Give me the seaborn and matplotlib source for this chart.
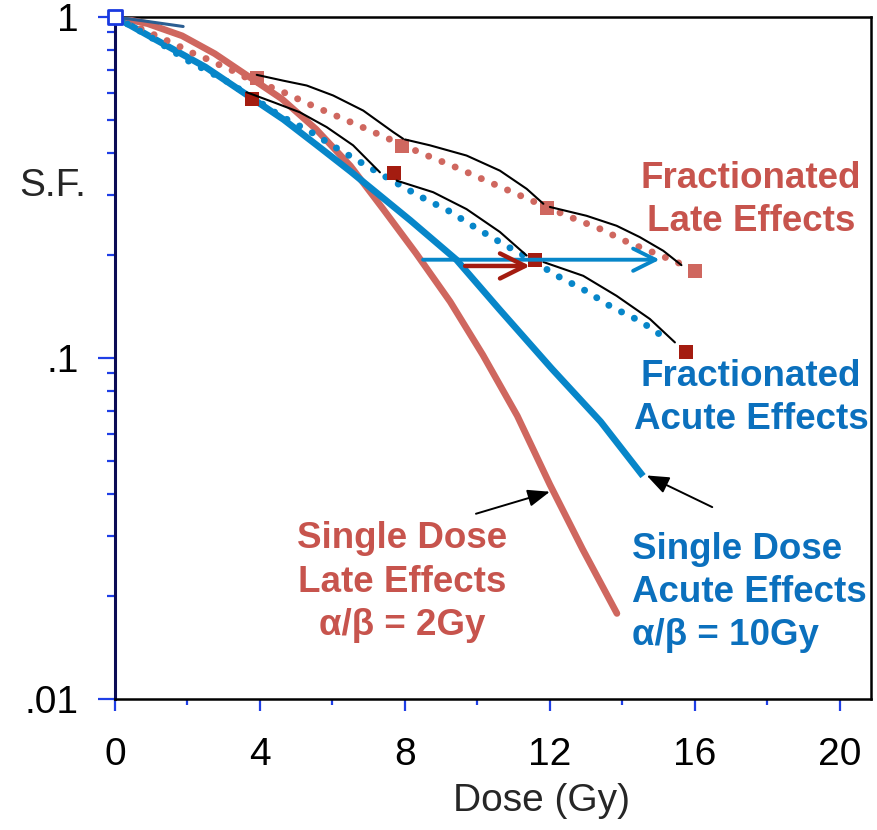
import numpy as np
import matplotlib
matplotlib.use("Agg")
import matplotlib.pyplot as plt
from matplotlib.ticker import LogLocator, NullFormatter
import seaborn as sns

# single dose curves (Gy, surviving fraction)
single_acute_dose = [0, 1.1, 2.5, 3.8, 4.65, 5.55, 6.5, 7.4, 8.15, 9.42, 10.6, 12.05, 13.4, 14.57]
single_acute_sf = [1.0, 0.86, 0.712, 0.575, 0.50, 0.422, 0.352, 0.294, 0.253, 0.194, 0.139, 0.093,
                   0.065, 0.045]

single_late_dose = [0, 0.9, 1.85, 2.75, 3.7, 4.6, 5.55, 6.5, 7.4, 8.3, 9.25, 10.15, 11.1, 12.0,
                    12.9, 13.85]
single_late_sf = [1.0, 0.955, 0.88, 0.78, 0.667, 0.575, 0.468, 0.365, 0.273, 0.203, 0.146, 0.102,
                  0.0676, 0.0425, 0.0275, 0.0178]

# fractionated (dotted) curves
frac_acute_dose = [0, 1.0, 2.0, 3.0, 3.8, 4.55, 5.4, 6.15, 6.9, 7.67, 8.4, 9.2, 10.0, 10.7,
                   11.45, 12.2, 13.0, 13.7, 14.5, 15.2]
frac_acute_sf = [1.0, 0.87, 0.745, 0.655, 0.58, 0.513, 0.46, 0.41, 0.368, 0.33, 0.298, 0.27, 0.239,
                 0.216, 0.195, 0.174, 0.157, 0.141, 0.128, 0.114]

frac_late_dose = [0, 0.92, 1.33, 1.73, 2.13, 2.53, 2.92, 3.33, 3.68, 4.55, 5.33, 6.13, 6.92, 7.72,
                  8.51, 9.33, 10.12, 10.94, 11.9, 12.55, 13.38, 14.16, 14.94, 15.7]
frac_late_sf = [1.0, 0.902, 0.862, 0.824, 0.784, 0.753, 0.72, 0.689, 0.658, 0.608, 0.556, 0.511,
                0.47, 0.431, 0.396, 0.365, 0.335, 0.307, 0.277, 0.259, 0.239, 0.218, 0.202, 0.187]

# fraction end points
acute_sq_dose = [3.78, 7.7, 11.6, 15.75]
acute_sq_sf = [0.575, 0.349, 0.193, 0.104]
late_sq_dose = [3.92, 7.91, 11.91, 16.0]
late_sq_sf = [0.662, 0.419, 0.275, 0.18]

# per-fraction shoulders (thin black)
acute_seg_dose = [[3.63, 4.37, 5.10, 5.84, 6.57, 7.31],
                  [7.77, 8.78, 9.7, 10.62, 11.36],
                  [11.82, 12.92, 13.84, 14.76, 15.45]]
acute_seg_sf = [[0.601, 0.562, 0.525, 0.475, 0.42, 0.35],
                [0.331, 0.306, 0.273, 0.234, 0.1995],
                [0.191, 0.174, 0.152, 0.13, 0.111]]
late_seg_dose = [[3.91, 4.64, 5.29, 6.02, 6.85, 7.68, 7.95],
                 [8.0, 8.69, 9.70, 10.62, 11.36, 11.82],
                 [12.0, 13.01, 13.84, 14.48, 15.13, 15.63]]
late_seg_sf = [[0.676, 0.65, 0.629, 0.588, 0.531, 0.459, 0.439],
               [0.437, 0.42, 0.392, 0.354, 0.313, 0.283],
               [0.277, 0.261, 0.244, 0.226, 0.206, 0.187]]

# initial slope line
alpha_dose = [0, 1.88]
alpha_sf = [1.0, 0.937]

x_major = [0, 4, 8, 12, 16, 20]
x_minor = [2, 6, 10, 14, 18]
y_major = [0.01, 0.1, 1]
y_labels = [".01", ".1", "1"]

BLUE = "#0786c9"
RED = "#cf675f"
DARKRED = "#a41c10"
TXT_BLUE = "#0b70bd"
TXT_RED = "#c7544d"
TICK = "#1f3fe6"

sns.set_theme(style="ticks")
plt.rcParams["font.family"] = ["Liberation Sans", "DejaVu Sans"]

fig = plt.figure(figsize=(8.78, 8.30), dpi=100)
ax = fig.add_axes([0.131, 0.158, 0.861, 0.8217])
ax.set_yscale("log")

# single dose
sns.lineplot(x=single_late_dose, y=single_late_sf, ax=ax, color=RED, linewidth=4.8,
             sort=False, estimator=None, solid_capstyle="round", solid_joinstyle="round", zorder=3)
sns.lineplot(x=single_acute_dose, y=single_acute_sf, ax=ax, color=BLUE, linewidth=4.8,
             sort=False, estimator=None, solid_capstyle="butt", solid_joinstyle="round", zorder=4)

# fractionated dotted
dots = (0, (0.01, 2.05))
sns.lineplot(x=frac_late_dose, y=frac_late_sf, ax=ax, color=RED, linewidth=5.0,
             linestyle=dots, dash_capstyle="round", sort=False, estimator=None, zorder=5)
sns.lineplot(x=frac_acute_dose, y=frac_acute_sf, ax=ax, color=BLUE, linewidth=5.0,
             linestyle=dots, dash_capstyle="round", sort=False, estimator=None, zorder=5)

sns.lineplot(x=alpha_dose, y=alpha_sf, ax=ax, color="#2b5e92", linewidth=2.2,
             sort=False, estimator=None, zorder=6)

# squares
sns.scatterplot(x=late_sq_dose, y=late_sq_sf, ax=ax, marker="s", s=95, color=RED,
                linewidth=0, zorder=6)
sns.scatterplot(x=acute_sq_dose, y=acute_sq_sf, ax=ax, marker="s", s=100, color=DARKRED,
                linewidth=0, zorder=6)

for d, s in zip(acute_seg_dose + late_seg_dose, acute_seg_sf + late_seg_sf):
    sns.lineplot(x=d, y=s, ax=ax, color="black", linewidth=1.5, sort=False,
                 estimator=None, zorder=7)

sns.scatterplot(x=[0], y=[1], ax=ax, marker="s", s=90, color="white", edgecolor="#1a3ae0",
                linewidth=2, zorder=10, clip_on=False)

# horizontal arrows
ax.annotate("", xy=(15.03, 0.194), xytext=(8.5, 0.194),
            arrowprops=dict(arrowstyle="->,head_length=0.8,head_width=0.4", mutation_scale=20,
                            color=BLUE, lw=2.8, shrinkA=0, shrinkB=0), zorder=8)
ax.annotate("", xy=(11.45, 0.186), xytext=(9.66, 0.186),
            arrowprops=dict(arrowstyle="->,head_length=0.9,head_width=0.45", mutation_scale=20,
                            color=DARKRED, lw=3.2, shrinkA=0, shrinkB=0), zorder=8)

# pointer arrows
ax.annotate("", xy=(12.0, 0.0405), xytext=(9.96, 0.0349),
            arrowprops=dict(arrowstyle="-|>,head_length=0.9,head_width=0.35", mutation_scale=15,
                            color="black", lw=1.4, shrinkA=0, shrinkB=0))
ax.annotate("", xy=(14.67, 0.0452), xytext=(16.48, 0.0365),
            arrowprops=dict(arrowstyle="-|>,head_length=0.9,head_width=0.35", mutation_scale=15,
                            color="black", lw=1.4, shrinkA=0, shrinkB=0))

# labels
txt = dict(fontsize=26.5, fontweight="bold", linespacing=1.3)
ax.text(17.55, 0.29, "Fractionated\nLate Effects", color=TXT_RED, ha="center", va="center",
        multialignment="center", **txt)
ax.text(17.55, 0.0763, "Fractionated\nAcute Effects", color=TXT_BLUE, ha="center", va="center",
        multialignment="center", **txt)
ax.text(14.27, 0.0205, "Single Dose\nAcute Effects\nα/β = 10Gy", color=TXT_BLUE, ha="left",
        va="center", multialignment="left", **txt)
ax.text(7.92, 0.022, "Single Dose\nLate Effects\nα/β = 2Gy", color=TXT_RED, ha="center",
        va="center", multialignment="center", **txt)

ax.set_xlim(0, 20.86)
ax.set_ylim(0.01, 1)
ax.set_xticks(x_major)
ax.set_xticks(x_minor, minor=True)
ax.set_xticklabels([str(v) for v in x_major])
ax.set_yticks(y_major)
ax.set_yticklabels(y_labels)
ax.yaxis.set_minor_locator(LogLocator(base=10, subs=np.arange(2, 10)))
ax.yaxis.set_minor_formatter(NullFormatter())

ax.tick_params(axis="both", which="both", direction="out", color=TICK, labelsize=28,
               labelcolor="black")
ax.tick_params(axis="y", which="major", length=12, width=1.6, pad=14)
ax.tick_params(axis="y", which="minor", length=6, width=1.6)
ax.tick_params(axis="x", which="major", length=8.5, width=1.6, pad=19)
ax.tick_params(axis="x", which="minor", length=4.5, width=1.6)

for side in ["top", "right", "bottom"]:
    ax.spines[side].set_color("black")
    ax.spines[side].set_linewidth(1.8)
ax.spines["left"].set_color("#0b0b55")
ax.spines["left"].set_linewidth(2.2)

ax.set_xlabel("Dose (Gy)", fontsize=28)
ax.xaxis.set_label_coords(0.5635, -0.123)
ax.set_ylabel("S.F.", fontsize=28, rotation=0, ha="center", va="center")
ax.yaxis.set_label_coords(-0.083, 0.752)

fig.savefig("out.png", dpi=100)
